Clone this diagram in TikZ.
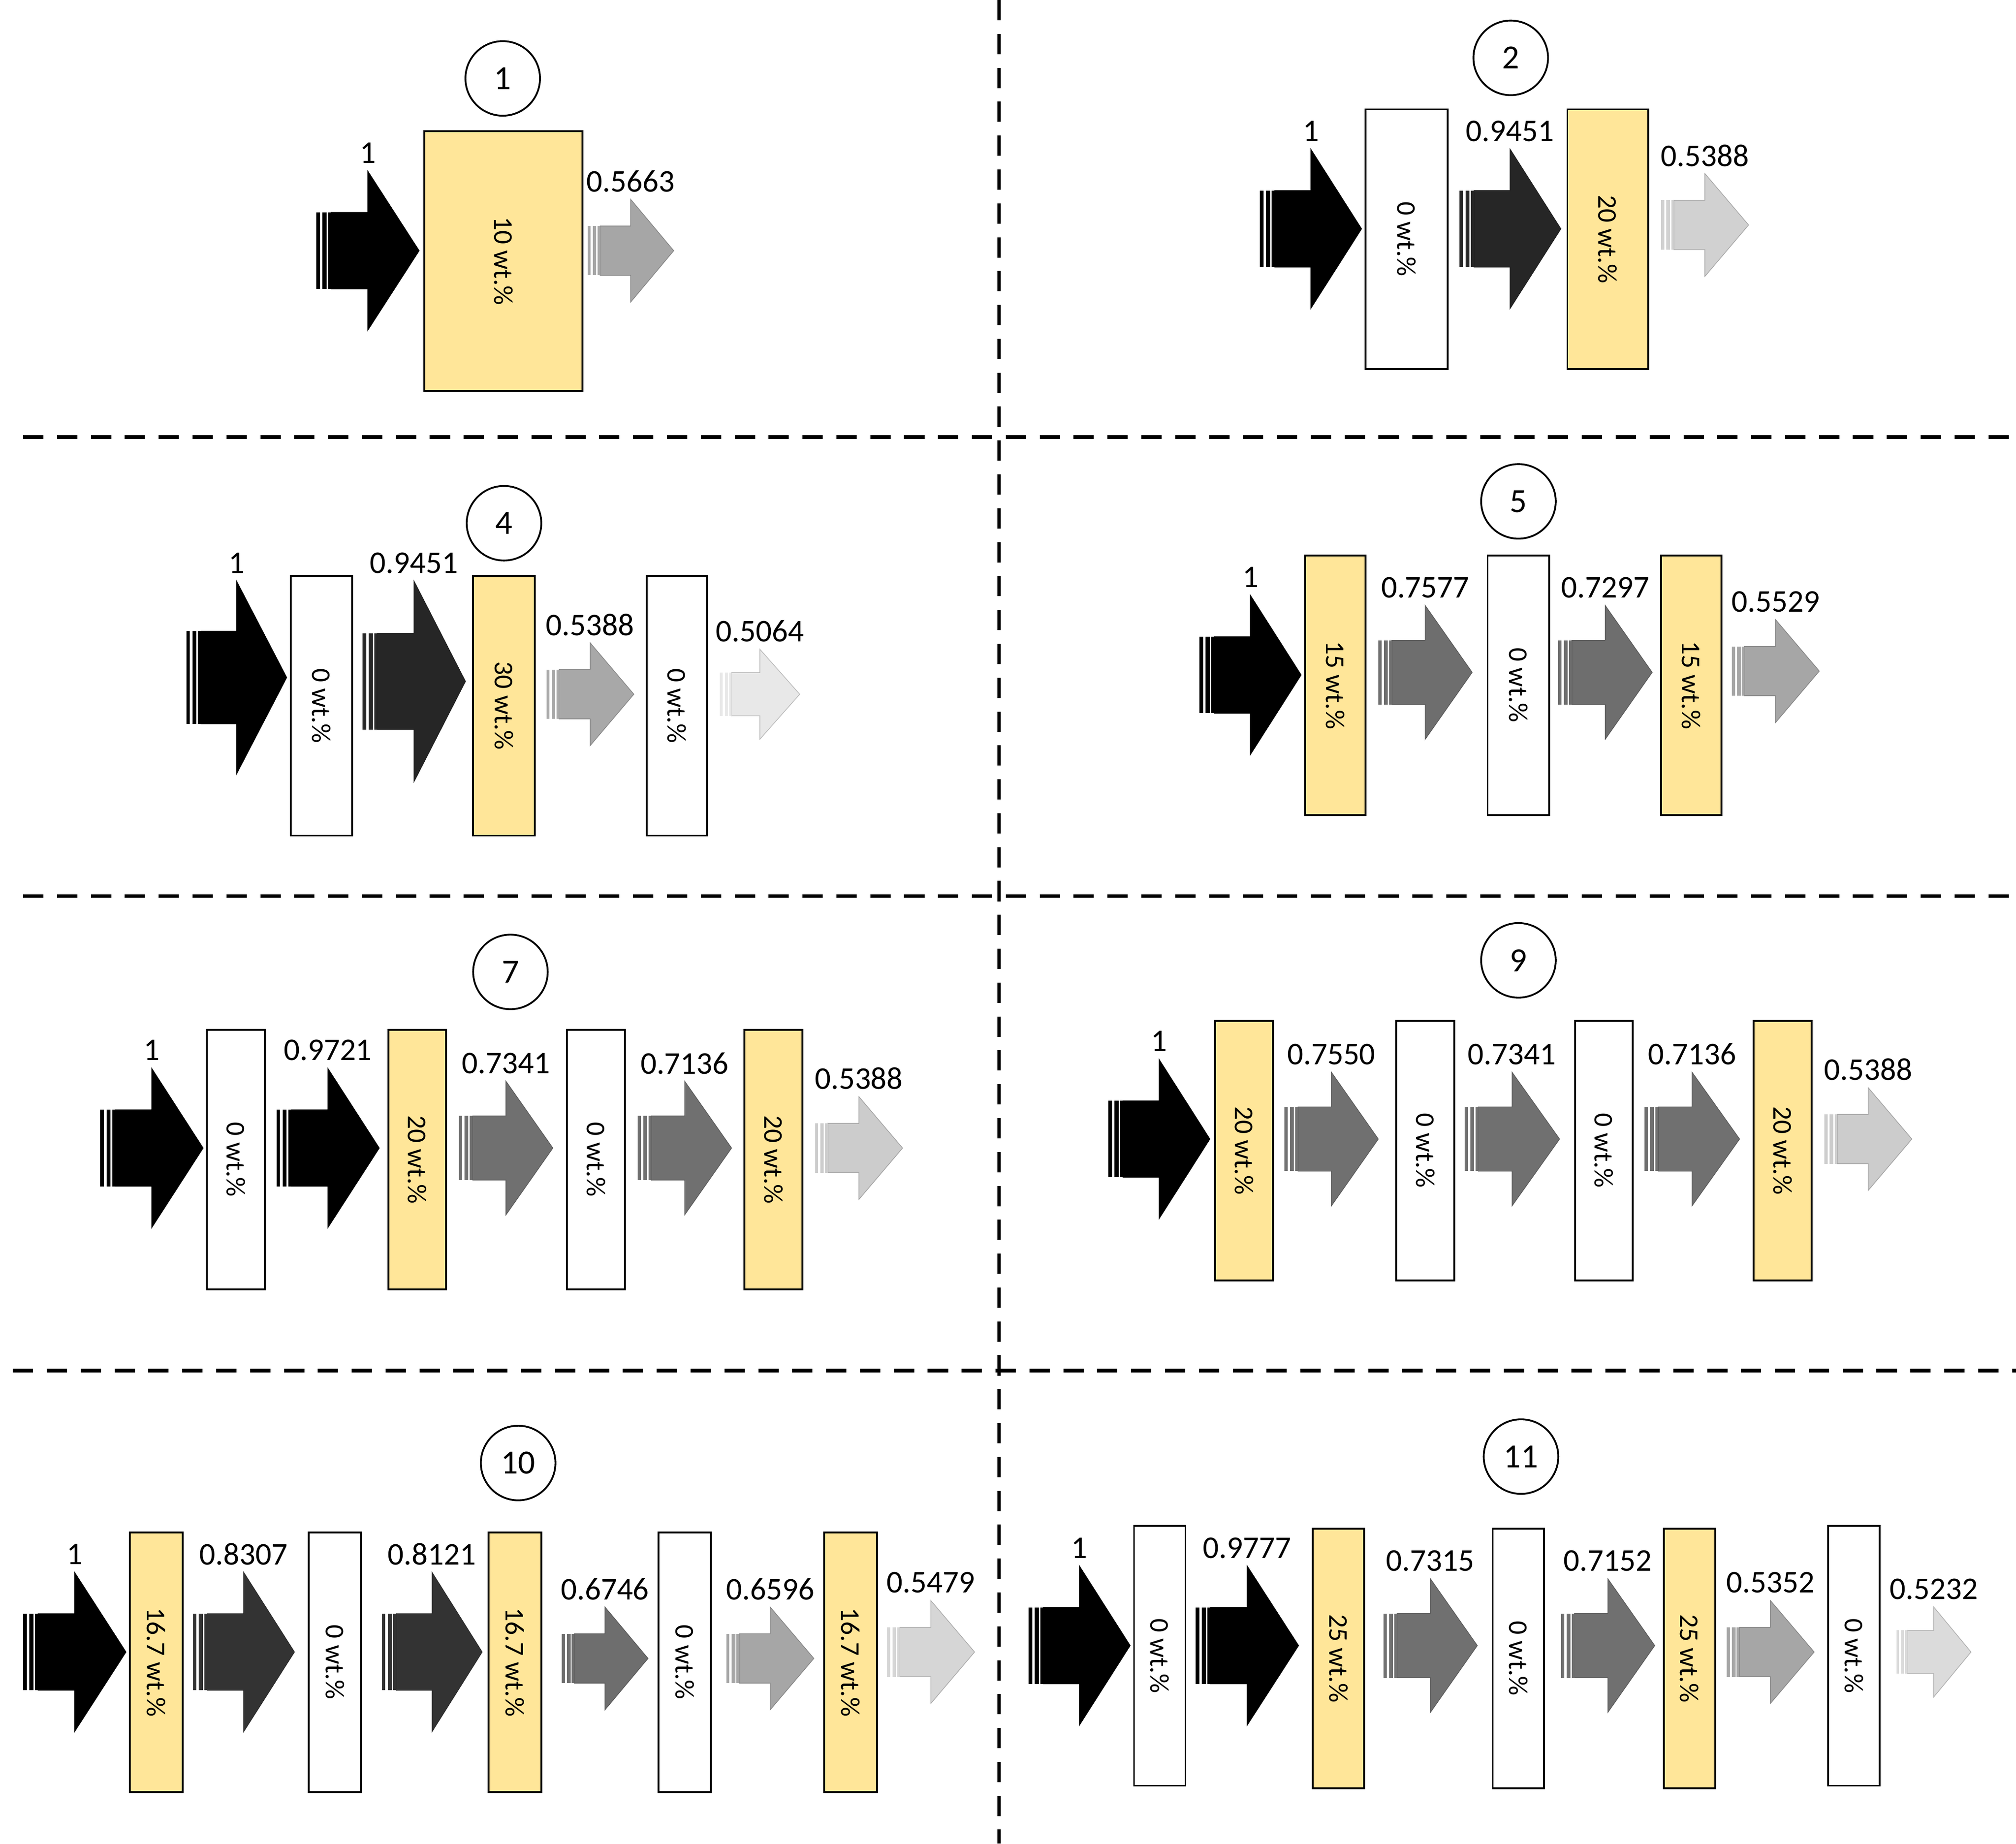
\documentclass[tikz,border=0pt]{standalone}
\usepackage{fontspec}
\setmainfont{Carlito}
\begin{document}
\begin{tikzpicture}[x=0.02cm,y=-0.02cm,
  box/.style={draw=black,line width=0.8pt,minimum width=#1*0.02cm,minimum height=202*0.02cm,inner sep=0pt},
  ybox/.style={box=#1,fill=boxyel},
  wbox/.style={box=#1,fill=white},
  lab/.style={font=\fontsize{14}{16}\selectfont,inner sep=0pt},
  num/.style={draw,circle,minimum size=58*0.02cm,inner sep=0pt,font=\fontsize{15}{17}\selectfont,line width=0.8pt},
  div/.style={line width=1.6pt,dash pattern=on 9pt off 6pt}]
\definecolor{boxyel}{HTML}{FFE699}
\useasboundingbox (0,0) rectangle (1568,1434);
\newcommand\flowarr[6]{% x0 x1 yc hh color label
  \pgfmathsetmacro\La{#2-#1}\pgfmathsetmacro\hb{#4*0.48}
  \pgfmathsetmacro\xa{#1+0.035*\La}\pgfmathsetmacro\xb{#1+0.06*\La}\pgfmathsetmacro\xc{#1+0.1*\La}
  \pgfmathsetmacro\xd{#1+0.115*\La}\pgfmathsetmacro\xe{#1+0.145*\La}\pgfmathsetmacro\xh{#1+0.5*\La}
  \colorlet{arrc}{#5}
  \fill[arrc] (#1,#3-\hb) rectangle (\xa,#3+\hb);
  \fill[arrc] (\xb,#3-\hb) rectangle (\xc,#3+\hb);
  \filldraw[fill=arrc,draw=arrc!80!black,line width=0.3pt] (\xe,#3-\hb) -- (\xh,#3-\hb) -- (\xh,#3-#4) -- (#2,#3) -- (\xh,#3+#4) -- (\xh,#3+\hb) -- (\xe,#3+\hb) -- cycle;
  \fill[arrc] (\xd,#3-\hb) rectangle (\xe,#3+\hb);
  \node[lab] at (\xh,#3-#4-14) {#6};}
\newcommand\rbox[5]{% style x0 x1 ytop text
  \node[#1={(#3-#2)}] at ({(#2+#3)/2},#4+101) {\rotatebox{-90}{\fontsize{12}{14}\selectfont #5}};}
% dividers
\draw[div] (777,0) -- (777,1434);
\draw[div] (18,340) -- (1568,340);
\draw[div] (18,697) -- (1568,697);
\draw[div] (10,1066) -- (1568,1066);
% panel 1
\node[num] (c1) at (391,61) {1};
\rbox{ybox}{330}{453}{102}{10 wt.\%}
\flowarr{246}{326}{195}{62}{black}{1}
\flowarr{457}{524}{195}{40}{black!35}{0.5663}
% panel 2
\node[num] (c2) at (1175,45) {2};
\flowarr{980}{1059}{178}{62}{black}{1}
\rbox{wbox}{1062}{1126}{85}{0 wt.\%}
\flowarr{1135}{1214}{178}{62}{black!85}{0.9451}
\rbox{ybox}{1219}{1282}{85}{20 wt.\%}
\flowarr{1292}{1360}{175}{40}{black!18}{0.5388}
% panel 4
\node[num] (c4) at (392,407) {4};
\flowarr{145}{223}{527}{75}{black}{1}
\rbox{wbox}{226}{274}{448}{0 wt.\%}
\flowarr{282}{362}{530}{78}{black!85}{0.9451}
\rbox{ybox}{368}{416}{448}{30 wt.\%}
\flowarr{425}{493}{540}{40}{black!34}{0.5388}
\rbox{wbox}{503}{550}{448}{0 wt.\%}
\flowarr{560}{622}{540}{35}{black!9}{0.5064}
% panel 5
\node[num] (c5) at (1181,390) {5};
\flowarr{933}{1012}{525}{62}{black}{1}
\rbox{ybox}{1015}{1062}{432}{15 wt.\%}
\flowarr{1072}{1145}{523}{52}{black!57}{0.7577}
\rbox{wbox}{1157}{1205}{432}{0 wt.\%}
\flowarr{1212}{1285}{523}{52}{black!57}{0.7297}
\rbox{ybox}{1292}{1339}{432}{15 wt.\%}
\flowarr{1347}{1415}{522}{40}{black!35}{0.5529}
% panel 7
\node[num] (c7) at (397,756) {7};
\flowarr{78}{158}{893}{62}{black}{1}
\rbox{wbox}{161}{206}{801}{0 wt.\%}
\flowarr{215}{295}{893}{62}{black}{0.9721}
\rbox{ybox}{302}{347}{801}{20 wt.\%}
\flowarr{357}{430}{893}{52}{black!56}{0.7341}
\rbox{wbox}{441}{486}{801}{0 wt.\%}
\flowarr{496}{569}{893}{52}{black!56}{0.7136}
\rbox{ybox}{579}{624}{801}{20 wt.\%}
\flowarr{634}{702}{893}{40}{black!20}{0.5388}
% panel 9
\node[num] (c9) at (1181,747) {9};
\flowarr{862}{941}{886}{62}{black}{1}
\rbox{ybox}{945}{990}{794}{20 wt.\%}
\flowarr{999}{1072}{886}{52}{black!56}{0.7550}
\rbox{wbox}{1086}{1131}{794}{0 wt.\%}
\flowarr{1139}{1213}{886}{52}{black!56}{0.7341}
\rbox{wbox}{1225}{1270}{794}{0 wt.\%}
\flowarr{1279}{1353}{886}{52}{black!56}{0.7136}
\rbox{ybox}{1364}{1409}{794}{20 wt.\%}
\flowarr{1419}{1487}{886}{40}{black!20}{0.5388}
% panel 10
\node[num] (c10) at (403,1138) {10};
\flowarr{18}{98}{1285}{62}{black}{1}
\rbox{ybox}{101}{142}{1192}{16.7 wt.\%}
\flowarr{150}{229}{1285}{62}{black!80}{0.8307}
\rbox{wbox}{240}{281}{1192}{0 wt.\%}
\flowarr{297}{375}{1285}{62}{black!80}{0.8121}
\rbox{ybox}{380}{421}{1192}{16.7 wt.\%}
\flowarr{437}{504}{1290}{40}{black!57}{0.6746}
\rbox{wbox}{512}{553}{1192}{0 wt.\%}
\flowarr{565}{633}{1290}{40}{black!35}{0.6596}
\rbox{ybox}{641}{682}{1192}{16.7 wt.\%}
\flowarr{690}{758}{1285}{40}{black!16}{0.5479}
% panel 11
\node[num] (c11) at (1183,1133) {11};
\flowarr{800}{879}{1280}{62}{black}{1}
\rbox{wbox}{882}{922}{1187}{0 wt.\%}
\flowarr{930}{1010}{1280}{62}{black}{0.9777}
\rbox{ybox}{1021}{1061}{1189}{25 wt.\%}
\flowarr{1076}{1149}{1280}{52}{black!56}{0.7315}
\rbox{wbox}{1161}{1201}{1189}{0 wt.\%}
\flowarr{1214}{1287}{1280}{52}{black!56}{0.7152}
\rbox{ybox}{1294}{1334}{1189}{25 wt.\%}
\flowarr{1343}{1411}{1285}{40}{black!35}{0.5352}
\rbox{wbox}{1422}{1462}{1187}{0 wt.\%}
\flowarr{1475}{1533}{1285}{35}{black!14}{0.5232}
\end{tikzpicture}
\end{document}
